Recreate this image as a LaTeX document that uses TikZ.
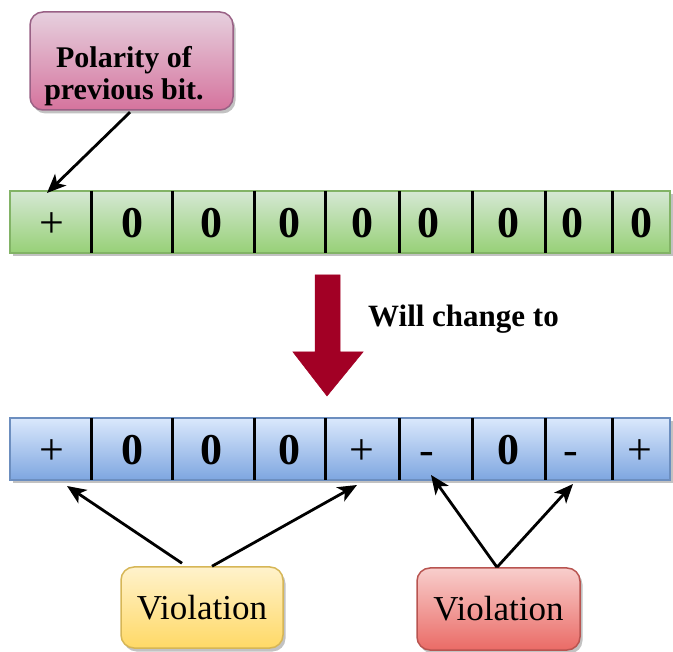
\documentclass[tikz,border=0pt]{standalone}
\usepackage{fontspec}
\setmainfont{Liberation Serif}
\usetikzlibrary{arrows.meta,shadows,calc}
\definecolor{gtop}{HTML}{D5E8D4}\definecolor{gbot}{HTML}{97D077}\definecolor{gline}{HTML}{82B366}
\definecolor{btop}{HTML}{DAE8FC}\definecolor{bbot}{HTML}{7EA6E0}\definecolor{bline}{HTML}{6C8EBF}
\definecolor{ptop}{HTML}{E6D0DE}\definecolor{pbot}{HTML}{D5739D}\definecolor{pline}{HTML}{996185}
\definecolor{ytop}{HTML}{FFF2CC}\definecolor{ybot}{HTML}{FFD966}\definecolor{yline}{HTML}{D6B656}
\definecolor{rtop}{HTML}{F8CECC}\definecolor{rbot}{HTML}{EA6B66}\definecolor{rline}{HTML}{B85450}
\definecolor{bigred}{HTML}{A20025}
\begin{document}
\begin{tikzpicture}[x=1pt,y=-1pt,
  shade/.style={drop shadow={shadow xshift=2.5pt,shadow yshift=-3.5pt,fill=black!40,opacity=0.6}},
  bar/.style={rectangle,minimum width=660pt,minimum height=62pt,inner sep=0pt,outer sep=0pt,line width=1.5pt,shade},
  greenbar/.style={bar,draw=gline,top color=gtop,bottom color=gbot},
  bluebar/.style={bar,draw=bline,top color=btop,bottom color=bbot},
  divider/.style={line width=3pt,black},
  celltext/.style={anchor=base,inner sep=0pt,font=\fontsize{44}{44}\selectfont},
  rbox/.style={rectangle,rounded corners=13pt,line width=1.5pt,inner sep=0pt,shade},
  polbox/.style={rbox,draw=pline,top color=ptop,bottom color=pbot,minimum width=203pt,minimum height=98pt},
  yelbox/.style={rbox,draw=yline,top color=ytop,bottom color=ybot,minimum width=162pt,minimum height=81pt,font=\fontsize{35}{35}\selectfont},
  redbox/.style={rbox,draw=rline,top color=rtop,bottom color=rbot,minimum width=163pt,minimum height=82pt,font=\fontsize{35}{35}\selectfont},
  conn/.style={line width=2.8pt,black,-{Stealth[length=19pt,width=16pt,inset=5pt]}},
  bigarrow/.style={fill=bigred,draw=bigred,line width=0.5pt,line join=miter}
]
\useasboundingbox (0,0) rectangle (673,652);

% polarity box
\node[polbox] (pol) at (131.5,61) {};
\node[align=center,inner sep=0pt,font=\bfseries\fontsize{30}{32}\selectfont] (poltext) at (124,76) {Polarity of\\previous bit.};

% green bar
\node[greenbar] (gbar) at (340,222) {};
\foreach \x in {91,172,254,325,399,472,545,612}
  \draw[divider] (\x,0 |- gbar.north) -- (\x,0 |- gbar.south);
\foreach \x/\t [count=\i] in {52/+,132/\textbf{0},211/\textbf{0},289/\textbf{0},362/\textbf{0},428/\textbf{0},508/\textbf{0},572/\textbf{0},641/\textbf{0}}
  \node[celltext] (g\i) at (\x,238) {\t};

% big red arrow
\fill[bigarrow] (315,275) -- (340,275) -- (340,352) -- (363,352) -- (327,396) -- (293,352) -- (315,352) -- cycle;
\node[anchor=base west,inner sep=0pt,font=\bfseries\fontsize{31}{31}\selectfont] (will) at (368,327) {Will change to};

% blue bar
\node[bluebar] (bbar) at (340,449) {};
\foreach \x in {91,172,254,325,399,472,545,612}
  \draw[divider] (\x,0 |- bbar.north) -- (\x,0 |- bbar.south);
\foreach \x/\t [count=\i] in {52/+,132/\textbf{0},211/\textbf{0},289/\textbf{0},362/+,427/-,508/\textbf{0},571/-,640/+}
  \node[celltext] (b\i) at (\x,465) {\t};

% violation boxes
\node[yelbox] (yel) at (202,607.5) {Violation};
\node[redbox] (red) at (498.5,609) {Violation};

% connectors
\coordinate (tipP) at (47,193);
\coordinate (tY1) at (67,486);
\coordinate (tY2) at (357,485);
\coordinate (tR1) at (431,475);
\coordinate (tR2) at (573,484);
\draw[conn,shorten <=2pt] (pol.south) -- (tipP);
\draw[conn] ($(yel.north)+(-20,-3)$) -- (tY1);
\draw[conn] ($(yel.north)+(10,0)$) -- (tY2);
\draw[conn] ($(red.north)+(-1.5,0)$) -- (tR1);
\draw[conn] ($(red.north)+(-1.5,0)$) -- (tR2);
\end{tikzpicture}
\end{document}
